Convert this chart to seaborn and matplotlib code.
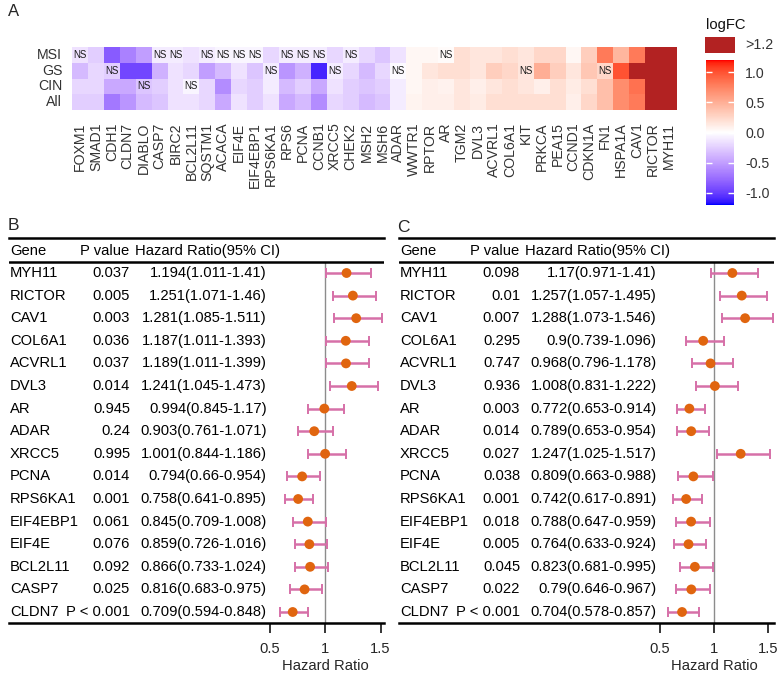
import numpy as np
import pandas as pd
import matplotlib
matplotlib.use("Agg")
import matplotlib.pyplot as plt
import seaborn as sns
from matplotlib.colors import ListedColormap
from matplotlib import transforms

# ---- panel A: logFC heatmap ----
genes = ["FOXM1", "SMAD1", "CDH1", "CLDN7", "DIABLO", "CASP7", "BIRC2", "BCL2L11",
         "SQSTM1", "ACACA", "EIF4E", "EIF4EBP1", "RPS6KA1", "RPS6", "PCNA", "CCNB1",
         "XRCC5", "CHEK2", "MSH2", "MSH6", "ADAR", "WWTR1", "RPTOR", "AR", "TGM2",
         "DVL3", "ACVRL1", "COL6A1", "KIT", "PRKCA", "PEA15", "CCND1", "CDKN1A", "FN1",
         "HSPA1A", "CAV1", "RICTOR", "MYH11"]
groups = ["MSI", "GS", "CIN", "All"]
logfc_msi = [-0.15, -0.25, -0.85, -0.65, -0.5, -0.1, -0.1, -0.15, -0.1, -0.05, -0.05, -0.05,
             -0.2, -0.1, -0.1, -0.1, -0.2, -0.1, -0.2, -0.3, -0.15, 0.05, 0.05, 0.02, 0.2,
             0.15, 0.15, 0.2, 0.15, 0.25, 0.25, 0.05, 0.3, 0.8, 0.45, 0.8, 1.5, 1.5]
logfc_gs = [-0.35, -0.2, -0.25, -0.95, -0.95, -0.4, -0.15, -0.2, -0.5, -0.35, -0.15, -0.3,
            -0.1, -0.55, -0.4, -1.1, -0.1, -0.2, -0.35, -0.2, -0.02, 0.05, 0.15, 0.2, 0.2,
            0.15, 0.3, 0.25, 0.15, 0.5, 0.3, 0.15, 0.35, 0.25, 1.0, 1.5, 1.5, 1.5]
logfc_cin = [-0.2, -0.2, -0.45, -0.45, -0.3, -0.25, -0.15, -0.05, -0.2, -0.6, -0.2, -0.25,
             -0.1, -0.35, -0.25, -0.45, -0.15, -0.25, -0.3, -0.25, -0.1, 0.05, 0.1, 0.08, 0.15,
             0.1, 0.15, 0.2, 0.15, 0.1, 0.2, 0.12, 0.2, 0.4, 0.7, 0.85, 1.5, 1.5]
logfc_all = [-0.25, -0.25, -0.7, -0.55, -0.35, -0.3, -0.15, -0.15, -0.2, -0.45, -0.15, -0.25,
             -0.15, -0.45, -0.35, -0.6, -0.2, -0.25, -0.35, -0.3, -0.1, 0.07, 0.1, 0.1, 0.15,
             0.12, 0.2, 0.2, 0.2, 0.2, 0.2, 0.1, 0.25, 0.4, 0.7, 0.8, 1.5, 1.5]
ns_msi = ["FOXM1", "CASP7", "BIRC2", "SQSTM1", "ACACA", "EIF4E", "EIF4EBP1", "RPS6", "PCNA",
          "CCNB1", "CHEK2", "AR"]
ns_gs = ["CDH1", "RPS6KA1", "XRCC5", "ADAR", "KIT", "FN1"]
ns_cin = ["DIABLO", "BCL2L11"]
ns_all = []
cbar_ticks = [-1.0, -0.5, 0.0, 0.5, 1.0]

# ---- panels B / C: forest tables ----
forest_genes = ["MYH11", "RICTOR", "CAV1", "COL6A1", "ACVRL1", "DVL3", "AR", "ADAR", "XRCC5",
                "PCNA", "RPS6KA1", "EIF4EBP1", "EIF4E", "BCL2L11", "CASP7", "CLDN7"]
p_b = ["0.037", "0.005", "0.003", "0.036", "0.037", "0.014", "0.945", "0.24", "0.995",
       "0.014", "0.001", "0.061", "0.076", "0.092", "0.025", "P < 0.001"]
hr_b = [1.194, 1.251, 1.281, 1.187, 1.189, 1.241, 0.994, 0.903, 1.001, 0.794, 0.758, 0.845,
        0.859, 0.866, 0.816, 0.709]
lo_b = [1.011, 1.071, 1.085, 1.011, 1.011, 1.045, 0.845, 0.761, 0.844, 0.66, 0.641, 0.709,
        0.726, 0.733, 0.683, 0.594]
hi_b = [1.41, 1.46, 1.511, 1.393, 1.399, 1.473, 1.17, 1.071, 1.186, 0.954, 0.895, 1.008,
        1.016, 1.024, 0.975, 0.848]
p_c = ["0.098", "0.01", "0.007", "0.295", "0.747", "0.936", "0.003", "0.014", "0.027",
       "0.038", "0.001", "0.018", "0.005", "0.045", "0.022", "P < 0.001"]
hr_c = [1.17, 1.257, 1.288, 0.9, 0.968, 1.008, 0.772, 0.789, 1.247, 0.809, 0.742, 0.788,
        0.764, 0.823, 0.79, 0.704]
lo_c = [0.971, 1.057, 1.073, 0.739, 0.796, 0.831, 0.653, 0.653, 1.025, 0.663, 0.617, 0.647,
        0.633, 0.681, 0.646, 0.578]
hi_c = [1.41, 1.495, 1.546, 1.096, 1.178, 1.222, 0.914, 0.954, 1.517, 0.988, 0.891, 0.959,
        0.924, 0.995, 0.967, 0.857]
hr_ticks = [0.5, 1, 1.5]

sns.set_style("white")
plt.rcParams["font.family"] = ["Liberation Sans", "DejaVu Sans"]
plt.rcParams["axes.unicode_minus"] = False

W, H = 784, 676
FS = 10.6


def box(x0, y0, x1, y1):
    # pixel box (top-left origin) -> figure fraction rect
    return [x0 / W, 1 - y1 / H, (x1 - x0) / W, (y1 - y0) / H]


# blue-white-red gradient interpolated in Lab (like ggplot's gradient2)
M = np.array([[0.4124, 0.3576, 0.1805], [0.2126, 0.7152, 0.0722], [0.0193, 0.1192, 0.9505]])
WHITE = np.array([0.95047, 1.0, 1.08883])


def to_lab(rgb):
    rgb = np.asarray(rgb, float)
    lin = np.where(rgb <= 0.04045, rgb / 12.92, ((rgb + 0.055) / 1.055) ** 2.4)
    xyz = M @ lin / WHITE
    f = np.where(xyz > 0.008856, np.cbrt(xyz), 7.787 * xyz + 16 / 116)
    return np.array([116 * f[1] - 16, 500 * (f[0] - f[1]), 200 * (f[1] - f[2])])


def from_lab(lab):
    fy = (lab[0] + 16) / 116
    f = np.array([fy + lab[1] / 500, fy, fy - lab[2] / 200])
    xyz = np.where(f ** 3 > 0.008856, f ** 3, (f - 16 / 116) / 7.787) * WHITE
    lin = np.clip(np.linalg.solve(M, xyz), 0, None)
    rgb = np.where(lin <= 0.0031308, 12.92 * lin, 1.055 * lin ** (1 / 2.4) - 0.055)
    return np.clip(rgb, 0, 1)


lab_blue, lab_white, lab_red = to_lab([0, 0, 1]), to_lab([1, 1, 1]), to_lab([1, 0, 0])
colors = []
for t in np.linspace(-1, 1, 256):
    end = lab_blue if t < 0 else lab_red
    colors.append(from_lab(lab_white + abs(t) * (end - lab_white)))
cmap = ListedColormap(colors)
cmap.set_over("#B22222")

fig = plt.figure(figsize=(W / 100, H / 100), dpi=100)

# ---- A ----
df = pd.DataFrame([logfc_msi, logfc_gs, logfc_cin, logfc_all], index=groups, columns=genes)
ns_sets = [ns_msi, ns_gs, ns_cin, ns_all]
annot = np.array([["NS" if g in ns else "" for g in genes] for ns in ns_sets])

ax_hm = fig.add_axes(box(72, 47, 677, 110))
cax = fig.add_axes(box(706, 60, 734, 205))
sns.heatmap(df, ax=ax_hm, cmap=cmap, vmin=-1.2, vmax=1.2, cbar_ax=cax,
            xticklabels=True, yticklabels=True,
            annot=annot, fmt="", annot_kws={"size": 7, "color": "#1a1a1a"},
            cbar_kws={"ticks": cbar_ticks, "format": "%.1f"})
ax_hm.tick_params(axis="both", length=0, labelsize=10.2, colors="#333333")
ax_hm.tick_params(axis="x", pad=9, labelrotation=90)
ax_hm.tick_params(axis="y", pad=7, labelrotation=0)
ax_hm.set_xlabel("")
ax_hm.set_ylabel("")

cbar = ax_hm.collections[0].colorbar
cbar.outline.set_visible(False)
cax.tick_params(length=0, labelsize=10.2, colors="#333333", pad=8)
cax.hlines(cbar_ticks, 0, 0.2, colors="white", lw=1)
cax.hlines(cbar_ticks, 0.8, 1, colors="white", lw=1)

ax_key = fig.add_axes(box(705, 37, 735, 53))
ax_key.set_facecolor("#B22222")
ax_key.set_xticks([])
ax_key.set_yticks([])
for s in ax_key.spines.values():
    s.set_visible(False)
fig.text(745 / W, 1 - 45 / H, ">1.2", fontsize=10.2, color="#333333", va="center")
fig.text(706 / W, 1 - 25 / H, "logFC", fontsize=10.6, color="#111111", va="center")

fig.text(8 / W, 1 - 11 / H, "A", fontsize=12, va="center")
fig.text(8 / W, 1 - 226 / H, "B", fontsize=12.5, va="center")
fig.text(397 / W, 1 - 228 / H, "C", fontsize=12.5, va="center")

# ---- B / C ----
ROW_PX = 22.6


def draw_forest(ax, pvals, hr, lo, hi, px_one, px_unit):
    width = 375
    rows = np.arange(len(forest_genes))
    hr = np.array(hr)
    ax.set_xlim(1 - px_one / px_unit, 1 + (width - px_one) / px_unit)
    ax.set_ylim(15 + 11 / ROW_PX, -35 / ROW_PX)
    head_y = -22 / ROW_PX
    line_y = -11 / ROW_PX

    ax.vlines(1, line_y, 15 + 11 / ROW_PX, colors="#8c8c8c", lw=1, zorder=1)
    ax.axhline(line_y, color="black", lw=1.8)
    ax.errorbar(hr, rows, xerr=[hr - np.array(lo), np.array(hi) - hr], fmt="none",
                ecolor="#d670a8", elinewidth=1.8, capsize=3.5, capthick=1.4, zorder=2)
    sns.scatterplot(x=hr, y=rows, ax=ax, color="#e0650f", s=50, edgecolor="none",
                    zorder=3, legend=False)

    tr = transforms.blended_transform_factory(ax.transAxes, ax.transData)
    kw = dict(fontsize=FS, va="center", color="black", transform=tr)
    ax.text(1 / width, head_y, "Gene", ha="left", **kw)
    ax.text(71 / width, head_y, "P value", ha="left", **kw)
    ax.text(126 / width, head_y, "Hazard Ratio(95% CI)", ha="left", **kw)
    for i, g in enumerate(forest_genes):
        ax.text(1 / width, i, g, ha="left", **kw)
        ax.text(121 / width, i, pvals[i], ha="right", **kw)
        ax.text(257.7 / width, i, f"{hr[i]:g}({lo[i]:g}-{hi[i]:g})", ha="right", **kw)

    for side in ["left", "right"]:
        ax.spines[side].set_visible(False)
    for side in ["top", "bottom"]:
        ax.spines[side].set_visible(True)
        ax.spines[side].set_linewidth(1.8)
        ax.spines[side].set_color("black")
    ax.set_yticks([])
    ax.set_xticks(hr_ticks)
    ax.set_xticklabels([f"{t:g}" for t in hr_ticks])
    ax.tick_params(axis="x", bottom=True, length=7, width=1.3, labelsize=FS, pad=7)
    ax.text(1, -43 / 385, "Hazard Ratio", fontsize=FS, ha="center", va="center",
            transform=transforms.blended_transform_factory(ax.transData, ax.transAxes))
    ax.set_facecolor("none")


ax_b = fig.add_axes(box(9, 238, 384, 623))
draw_forest(ax_b, p_b, hr_b, lo_b, hi_b, 316, 111)
ax_c = fig.add_axes(box(399, 238, 774, 623))
draw_forest(ax_c, p_c, hr_c, lo_c, hi_c, 315, 108)

fig.savefig("out.png", dpi=100)
